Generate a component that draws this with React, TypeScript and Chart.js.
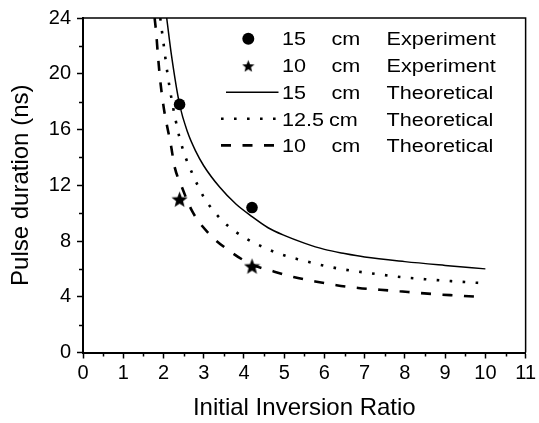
import React, { useEffect, useRef } from "react";
import { Chart, registerables } from "chart.js";
Chart.register(...registerables);

// Experimental points
const exp15X = [2.4, 4.2];
const exp15Y = [17.8, 10.4];
const exp10X = [2.4, 4.2];
const exp10Y = [11.0, 6.2];

// Theoretical curves
const theo15X = [2.08, 2.2, 2.4, 2.6, 2.8, 3.0, 3.4, 3.8, 4.2, 4.6, 5.0, 5.5, 6.0, 6.5, 7.0, 8.0, 9.0, 10.0];
const theo15Y = [24, 21.3, 17.8, 15.8, 14.45, 13.4, 11.85, 10.65, 9.75, 8.95, 8.4, 7.85, 7.4, 7.1, 6.85, 6.52, 6.25, 6.0];

const theo125X = [1.92, 2.0, 2.1, 2.2, 2.3, 2.4, 2.55, 2.7, 3.0, 3.2, 3.5, 3.8, 4.1, 4.45, 4.75, 5.1, 5.4, 6.0, 6.65, 7.3, 7.9, 8.5, 9.15, 9.8, 10.0];
const theo125Y = [24, 22.2, 20.0, 18.2, 16.7, 15.4, 14.0, 12.95, 11.15, 10.33, 9.35, 8.65, 8.1, 7.6, 7.22, 6.88, 6.65, 6.22, 5.88, 5.63, 5.41, 5.26, 5.12, 5.0, 4.97];

const theo10X = [1.78, 1.82, 1.86, 1.92, 2.01, 2.19, 2.27, 2.44, 2.72, 3.14, 3.63, 4.2, 4.7, 5.23, 5.77, 6.3, 6.84, 7.38, 7.87, 8.28, 8.81, 9.35, 10.0];
const theo10Y = [24, 22.9, 21.4, 19.5, 17.5, 14.8, 13.4, 12.0, 10.1, 8.5, 7.31, 6.3, 5.85, 5.42, 5.1, 4.83, 4.63, 4.5, 4.39, 4.29, 4.17, 4.08, 3.96];

// Legend texts
const legendNumbers = ["15", "10", "15", "12.5", "10"];
const legendUnits = ["cm", "cm", "cm", "cm", "cm"];
const legendKinds = ["Experiment", "Experiment", "Theoretical", "Theoretical", "Theoretical"];

const xTitle = "Initial Inversion Ratio";
const yTitle = "Pulse duration (ns)";

const FONT = "'Liberation Sans', Arial, Helvetica, sans-serif";

function pts(xs: number[], ys: number[]) {
  return xs.map((x, i) => ({ x, y: ys[i] }));
}

function makeStar(size: number) {
  const c = document.createElement("canvas");
  c.width = size;
  c.height = size;
  const ctx = c.getContext("2d")!;
  const cx = size / 2;
  const cy = size / 2 + size * 0.05;
  const R = size / 2;
  const r = R * 0.43;
  ctx.beginPath();
  for (let i = 0; i < 10; i++) {
    const a = -Math.PI / 2 + (i * Math.PI) / 5;
    const rr = i % 2 ? r : R;
    ctx.lineTo(cx + rr * Math.cos(a), cy + rr * Math.sin(a));
  }
  ctx.closePath();
  ctx.fillStyle = "#000";
  ctx.fill();
  return c;
}

export default function App() {
  const ref = useRef<HTMLCanvasElement>(null);

  useEffect(() => {
    document.body.style.margin = "0";
    const star = makeStar(17);
    const starSmall = makeStar(13);

    const minorTicks = {
      id: "minorTicks",
      afterDraw(chart: any) {
        const { ctx, chartArea } = chart;
        const x = chart.scales.x;
        const y = chart.scales.y;
        ctx.save();
        ctx.strokeStyle = "#000";
        ctx.lineWidth = 1.5;
        ctx.beginPath();
        for (let v = 0.5; v < 11; v += 1) {
          const px = Math.round(x.getPixelForValue(v)) + 0.5;
          ctx.moveTo(px, chartArea.bottom);
          ctx.lineTo(px, chartArea.bottom + 4);
        }
        for (let v = 2; v < 24; v += 4) {
          const py = Math.round(y.getPixelForValue(v)) + 0.5;
          ctx.moveTo(chartArea.left, py);
          ctx.lineTo(chartArea.left - 4, py);
        }
        ctx.stroke();
        // top and right frame
        ctx.lineWidth = 1.5;
        ctx.beginPath();
        ctx.moveTo(chartArea.left, chartArea.top);
        ctx.lineTo(chartArea.right, chartArea.top);
        ctx.lineTo(chartArea.right, chartArea.bottom);
        ctx.stroke();
        ctx.restore();
      },
    };

    const legend = {
      id: "customLegend",
      afterDraw(chart: any) {
        const ctx = chart.ctx;
        const ds = chart.data.datasets;
        const baselines = [45.2, 72, 98.7, 125.7, 152.3];
        const centers = [38.8, 65.8, 92.2, 118.8, 145.4];
        ctx.save();
        // symbols
        ctx.fillStyle = "#000";
        ctx.beginPath();
        ctx.arc(248.3, centers[0], 6, 0, Math.PI * 2);
        ctx.fill();
        ctx.drawImage(starSmall, 248.3 - 6.5, centers[1] - 6.5);
        const lineStarts = [226, 221, 221];
        for (let i = 0; i < 3; i++) {
          const d = ds[i + 2];
          ctx.beginPath();
          ctx.setLineDash(d.borderDash || []);
          ctx.lineWidth = d.borderWidth;
          ctx.strokeStyle = d.borderColor;
          ctx.moveTo(lineStarts[i], centers[i + 2]);
          ctx.lineTo(278.5, centers[i + 2]);
          ctx.stroke();
        }
        ctx.setLineDash([]);
        // texts
        ctx.font = `18px ${FONT}`;
        ctx.textBaseline = "alphabetic";
        ctx.textAlign = "left";
        ctx.fillStyle = "#000";
        const sx = 1.2;
        const drawT = (t: string, x: number, y: number) => {
          ctx.save();
          ctx.translate(x, y);
          ctx.scale(sx, 1);
          ctx.fillText(t, 0, 0);
          ctx.restore();
        };
        for (let i = 0; i < legendNumbers.length; i++) {
          drawT(legendNumbers[i], 282, baselines[i]);
          drawT(legendUnits[i], legendNumbers[i].length > 2 ? 329 : 331.5, baselines[i]);
          drawT(legendKinds[i], 386.5, baselines[i]);
        }
        ctx.restore();
      },
    };

    const chart = new Chart(ref.current!, {
      type: "scatter",
      data: {
        datasets: [
          {
            label: "15 cm Experiment",
            data: pts(exp15X, exp15Y),
            pointStyle: "circle",
            pointRadius: 5.8,
            backgroundColor: "#000",
            borderColor: "#000",
            borderWidth: 0,
            showLine: false,
          },
          {
            label: "10 cm Experiment",
            data: pts(exp10X, exp10Y),
            pointStyle: star as any,
            pointRadius: 8,
            backgroundColor: "#000",
            borderColor: "#000",
            showLine: false,
          },
          {
            label: "15 cm Theoretical",
            data: pts(theo15X, theo15Y),
            showLine: true,
            pointRadius: 0,
            borderColor: "#000",
            borderWidth: 1.5,
            cubicInterpolationMode: "monotone",
          },
          {
            label: "12.5 cm Theoretical",
            data: pts(theo125X, theo125Y),
            showLine: true,
            pointRadius: 0,
            borderColor: "#000",
            borderWidth: 2.6,
            borderDash: [2.6, 10.4],
            borderCapStyle: "butt",
            cubicInterpolationMode: "monotone",
          },
          {
            label: "10 cm Theoretical",
            data: pts(theo10X, theo10Y),
            showLine: true,
            pointRadius: 0,
            borderColor: "#000",
            borderWidth: 2.6,
            borderDash: [10, 11.5],
            borderCapStyle: "butt",
            cubicInterpolationMode: "monotone",
          },
        ],
      },
      options: {
        animation: false,
        responsive: true,
        maintainAspectRatio: false,
        layout: { padding: { top: 16, right: 10, left: 0, bottom: 0 } },
        plugins: {
          legend: { display: false },
          tooltip: { enabled: false },
        },
        scales: {
          x: {
            type: "linear",
            min: 0,
            max: 11,
            afterFit: (s: any) => {
              s.height = 70.5;
            },
            ticks: {
              stepSize: 1,
              color: "#000",
              font: { family: FONT, size: 20 },
              padding: 3,
              maxRotation: 0,
            },
            grid: {
              display: true,
              drawOnChartArea: false,
              drawTicks: true,
              tickLength: 6,
              tickColor: "#000",
              tickWidth: 1.5,
            },
            border: { display: true, color: "#000", width: 2 },
            title: {
              display: true,
              text: xTitle,
              color: "#000",
              font: { family: FONT, size: 24 },
              padding: { top: 0, bottom: 0 },
            },
          },
          y: {
            type: "linear",
            min: 0,
            max: 24,
            afterFit: (s: any) => {
              s.width = 83;
            },
            ticks: {
              stepSize: 4,
              color: "#000",
              font: { family: FONT, size: 20 },
              padding: 6,
            },
            grid: {
              display: true,
              drawOnChartArea: false,
              drawTicks: true,
              tickLength: 6,
              tickColor: "#000",
              tickWidth: 1.5,
            },
            border: { display: true, color: "#000", width: 2 },
            title: {
              display: true,
              text: yTitle,
              color: "#000",
              font: { family: FONT, size: 24 },
              padding: { top: 7, bottom: 0 },
            },
          },
        },
      },
      plugins: [minorTicks, legend],
    } as any);
    return () => chart.destroy();
  }, []);

  return (
    <div style={{ position: "absolute", left: 0, top: 0, width: 539, height: 423 }}>
      <canvas ref={ref} />
    </div>
  );
}
